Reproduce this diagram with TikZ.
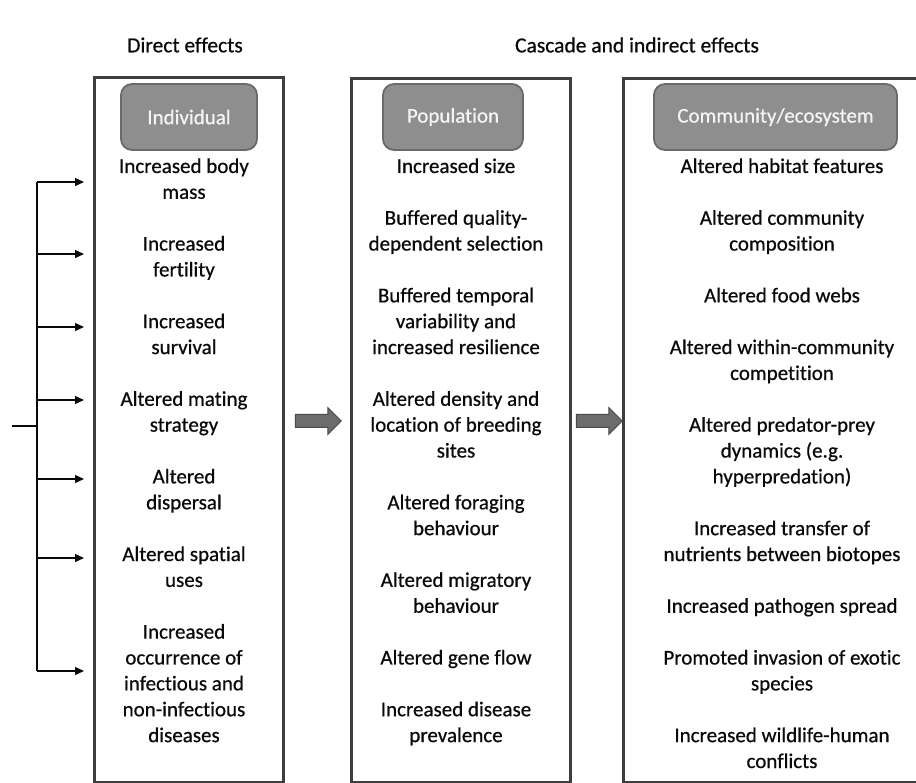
\documentclass[tikz,border=0pt]{standalone}
\usepackage{fontspec}
\setmainfont{Carlito}[RawFeature={-liga;-clig;-calt;-dlig},FakeBold=0.6]
\usetikzlibrary{shapes.arrows,arrows.meta}
\definecolor{boxline}{HTML}{3E3E3E}
\definecolor{hdrfill}{HTML}{8E8E8E}
\definecolor{hdrline}{HTML}{6A6A6A}
\definecolor{hdrtext}{HTML}{F4F4F4}
\definecolor{arrfill}{HTML}{6C6C6C}
\definecolor{arrline}{HTML}{4A4A4A}
\definecolor{ink}{HTML}{0A0A0A}
\begin{document}
\begin{tikzpicture}[x=1pt,y=-1pt,
  colbox/.style={draw=boxline,line width=2.8pt,rectangle,inner sep=0pt,anchor=north west},
  hdr/.style={draw=hdrline,fill=hdrfill,line width=1.8pt,rounded corners=11pt,inner sep=0pt,
    text=hdrtext,font=\fontsize{21}{25.87}\selectfont},
  coltext/.style={align=center,anchor=base,inner sep=0pt,text=ink,font=\fontsize{21}{25.87}\selectfont},
  title/.style={text=ink,font=\fontsize{21.5}{26}\selectfont,inner sep=0pt},
  blockarrow/.style={single arrow,draw=arrline,fill=arrfill,line width=1pt,
    minimum height=46pt,minimum width=26pt,inner sep=6pt,single arrow head extend=7pt},
  conn/.style={draw=ink,line width=1.4pt},
  connarrow/.style={conn,-{Triangle[length=9pt,width=8pt]}}]
\useasboundingbox (0,0) rectangle (916,783);
\clip (0,0) rectangle (916,783);
\fill[white] (0,0) rectangle (916,783);

% titles
\node[title] (t1) at (185,45) {Direct effects};
\node[title] (t2) at (637,45) {Cascade and indirect effects};

% column boxes
\node[colbox,minimum width=189pt,minimum height=705pt] (b1) at (93,76) {};
\node[colbox,minimum width=219pt,minimum height=704pt] (b2) at (350,77) {};
\node[colbox,minimum width=320pt,minimum height=704pt] (b3) at (622,77) {};

% header labels
\node[hdr,minimum width=136pt,minimum height=66pt] (h1) at (189,117) {Individual};
\node[hdr,minimum width=140pt,minimum height=66pt] (h2) at (453,117) {Population};
\node[hdr,minimum width=243pt,minimum height=66pt] (h3) at (775.5,117) {Community/ecosystem};

% column texts (anchor base = baseline of the last line)
\node[coltext] (c1) at (184,742.1) {Increased body\\mass\\~\\Increased\\fertility\\~\\Increased\\survival\\~\\Altered mating\\strategy\\~\\Altered\\dispersal\\~\\Altered spatial\\uses\\~\\Increased\\occurrence of\\infectious and\\non-infectious\\diseases};
\node[coltext] (c2) at (456,742.1) {Increased size\\~\\Buffered quality-\\dependent selection\\~\\Buffered temporal\\variability and\\increased resilience\\~\\Altered density and\\location of breeding\\sites\\~\\Altered foraging\\behaviour\\~\\Altered migratory\\behaviour\\~\\Altered gene flow\\~\\Increased disease\\prevalence};
\node[coltext] (c3) at (782,768.0) {Altered habitat features\\~\\Altered community\\composition\\~\\Altered food webs\\~\\Altered within-community\\competition\\~\\Altered predator-prey\\dynamics (e.g.\\hyperpredation)\\~\\Increased transfer of\\nutrients between biotopes\\~\\Increased pathogen spread\\~\\Promoted invasion of exotic\\species\\~\\Increased wildlife-human\\conflicts};

% block arrows between columns
\node[blockarrow] (ar1) at (315,421) {};
\node[blockarrow] (ar2) at (596,421) {};

% left connector tree
\coordinate (src) at (12,426);
\coordinate (jn) at (37,426);
\coordinate (top) at (37,182);
\coordinate (bot) at (37,671);
\draw[conn] (src) -- (jn);
\draw[conn] (top) -- (bot);
\foreach \yy [count=\i] in {182,254,327,400,479,558,671}{
  \coordinate (s\i) at (37,\yy);
  \coordinate (e\i) at (84,\yy);
  \draw[connarrow] (s\i) -- (e\i);
}
\end{tikzpicture}
\end{document}
